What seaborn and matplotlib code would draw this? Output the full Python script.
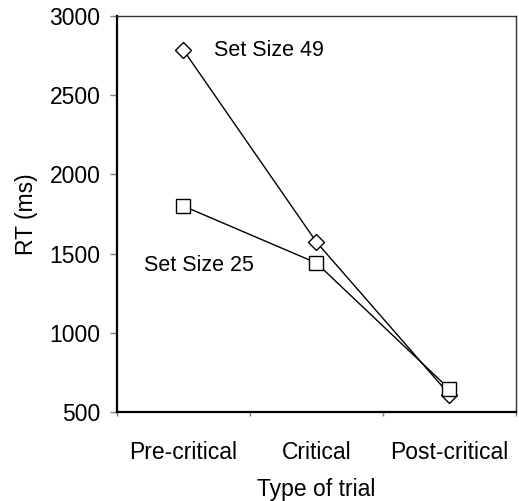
import pandas as pd
import matplotlib
matplotlib.use("Agg")
import matplotlib.pyplot as plt
import seaborn as sns

# valores
trials = ['Pre-critical', 'Critical', 'Post-critical']
rt_49 = [2785, 1573, 610]
rt_25 = [1800, 1441, 645]

sns.set_theme(style="white")
plt.rcParams['font.family'] = ['Liberation Sans', 'DejaVu Sans']
plt.rcParams['text.color'] = 'black'
plt.rcParams['axes.labelcolor'] = 'black'

df49 = pd.DataFrame({'trial': trials, 'rt': rt_49})
df25 = pd.DataFrame({'trial': trials, 'rt': rt_25})

fig = plt.figure(figsize=(5.19, 5.01), dpi=100)
ax = fig.add_axes([0.2254, 0.1776, 0.994 - 0.2254, 0.968 - 0.1776])

sns.lineplot(data=df49, x='trial', y='rt', ax=ax, color='black', lw=1,
             marker='D', markersize=8.5, markerfacecolor='white',
             markeredgecolor='black', markeredgewidth=1)
sns.lineplot(data=df25, x='trial', y='rt', ax=ax, color='black', lw=1,
             marker='s', markersize=10, markerfacecolor='white',
             markeredgecolor='black', markeredgewidth=1)

ax.text(0.23, 2785, 'Set Size 49', fontsize=15.5, va='center', ha='left')
ax.text(-0.3, 1422, 'Set Size 25', fontsize=15.5, va='center', ha='left')

ax.set_xlim(-0.5, 2.5)
ax.set_ylim(500, 3000)
ax.set_yticks([500, 1000, 1500, 2000, 2500, 3000])
ax.set_xticks([0, 1, 2])
ax.set_xticklabels(trials)
ax.set_xticks([-0.5, 0.5, 1.5, 2.5], minor=True)

ax.tick_params(axis='y', which='major', left=True, length=5, width=1,
               color='gray', labelcolor='black', labelsize=16.5, pad=7)
ax.tick_params(axis='x', which='major', bottom=False, labelcolor='black',
               labelsize=16.5, pad=15)
ax.tick_params(axis='x', which='minor', bottom=True, length=3, width=1,
               color='gray')

for side in ['top', 'right']:
    ax.spines[side].set_color('#333333')
    ax.spines[side].set_linewidth(1)
for side in ['left', 'bottom']:
    ax.spines[side].set_color('black')
    ax.spines[side].set_linewidth(1.6)

ax.set_xlabel('Type of trial', fontsize=16.5, labelpad=10)
ax.set_ylabel('RT (ms)', fontsize=16.5, labelpad=8)

fig.savefig('out.png', dpi=100)
